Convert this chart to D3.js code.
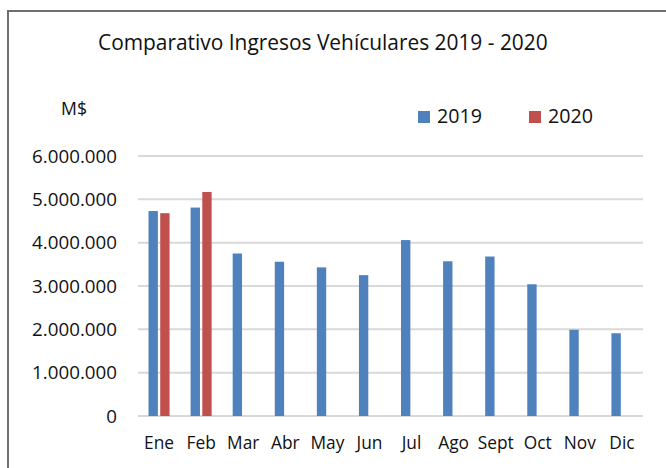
<!DOCTYPE html>
<html>
<head>
<meta charset="utf-8">
<script src="https://cdn.jsdelivr.net/npm/d3@7"></script>
<style>
  body { margin: 0; background: #fff; }
  text { font-family: "Open Sans", Lato, sans-serif; fill: #111; }
</style>
</head>
<body>
<svg width="666" height="468"></svg>
<script>
// data
const months = ["Ene", "Feb", "Mar", "Abr", "May", "Jun", "Jul", "Ago", "Sept", "Oct", "Nov", "Dic"];
const series = ["2019", "2020"];
const values2019 = [4730000, 4810000, 3750000, 3560000, 3430000, 3250000, 4060000, 3570000, 3680000, 3040000, 1990000, 1910000];
const values2020 = [4680000, 5170000, null, null, null, null, null, null, null, null, null, null];
const yTicks = [0, 1000000, 2000000, 3000000, 4000000, 5000000, 6000000];
const colors = ["#4f81bd", "#c0504d"];

const svg = d3.select("svg");

// pick a font size so that a given text node is as wide as in the reference
function fitSize(node, base, target) {
  node.setAttribute("font-size", base);
  const w = node.getComputedTextLength();
  return base * target / w;
}

// outer chart frame (runs off the right and bottom edge like the reference)
svg.append("rect")
  .attr("x", 8).attr("y", 11)
  .attr("width", 700).attr("height", 500)
  .attr("fill", "none")
  .attr("stroke", "#6f6f6f")
  .attr("stroke-width", 2);

const plotLeft = 138, plotRight = 643, plotTop = 156, plotBottom = 416;

const x0 = d3.scaleBand().domain(months).range([plotLeft, plotRight]).paddingInner(0.5).paddingOuter(0.25);
const x1 = d3.scaleBand().domain(series).range([0, x0.bandwidth()]).paddingInner(0.2);
const y = d3.scaleLinear().domain([0, 6000000]).range([plotBottom, plotTop]);

const locale = d3.formatLocale({ decimal: ",", thousands: ".", grouping: [3], currency: ["$", ""] });
const fmt = locale.format(",d");

// gridlines
svg.append("g").selectAll("line").data(yTicks).enter().append("line")
  .attr("x1", plotLeft).attr("x2", plotRight)
  .attr("y1", d => y(d)).attr("y2", d => y(d))
  .attr("stroke", "#d9d9d9")
  .attr("stroke-width", 2);

// y axis labels
const yAxis = svg.append("g").attr("transform", "translate(" + 128 + ",0)")
  .call(d3.axisLeft(y).tickValues(yTicks).tickFormat(fmt).tickSize(0).tickPadding(11));
yAxis.select(".domain").remove();
const yLabels = yAxis.selectAll("text").attr("fill", "#111");
const ySize = fitSize(yLabels.nodes()[yLabels.size() - 1], 18, 85);
yLabels.attr("font-size", ySize);

// x axis labels
const xAxis = svg.append("g").attr("transform", "translate(0," + plotBottom + ")")
  .call(d3.axisBottom(x0).tickSize(0).tickPadding(21));
xAxis.select(".domain").remove();
const xLabels = xAxis.selectAll("text").attr("fill", "#111");
const xSize = fitSize(xLabels.nodes()[0], 17, 30);
xLabels.attr("font-size", xSize);

// bars
const rows = months.map((m, i) => ({ month: m, vals: [values2019[i], values2020[i]] }));
const groups = svg.append("g").selectAll("g").data(rows).enter().append("g")
  .attr("transform", d => "translate(" + x0(d.month) + ",0)");
groups.selectAll("rect")
  .data(d => d.vals.map((v, j) => ({ key: series[j], v: v, c: colors[j] })).filter(e => e.v != null))
  .enter().append("rect")
  .attr("x", d => x1(d.key))
  .attr("y", d => y(d.v))
  .attr("width", x1.bandwidth())
  .attr("height", d => y(0) - y(d.v))
  .attr("fill", d => d.c);

// title
const title = svg.append("text")
  .attr("x", 98).attr("y", 50)
  .text("Comparativo Ingresos Vehículares 2019 - 2020");
title.attr("font-size", fitSize(title.node(), 20, 450));

// unit label
const unit = svg.append("text")
  .attr("x", 61).attr("y", 115)
  .text("M$");
unit.attr("font-size", fitSize(unit.node(), 18, 26));

// legend
const legendX = [418, 529];
const legend = svg.append("g").selectAll("g").data(series).enter().append("g")
  .attr("transform", (d, i) => "translate(" + legendX[i] + ",0)");
legend.append("rect")
  .attr("x", 0).attr("y", 111)
  .attr("width", 12).attr("height", 12)
  .attr("fill", (d, i) => colors[i]);
const legendText = legend.append("text")
  .attr("x", 19).attr("y", 123)
  .text(d => d);
legendText.attr("font-size", fitSize(legendText.node(), 20, 45));
</script>
</body>
</html>
